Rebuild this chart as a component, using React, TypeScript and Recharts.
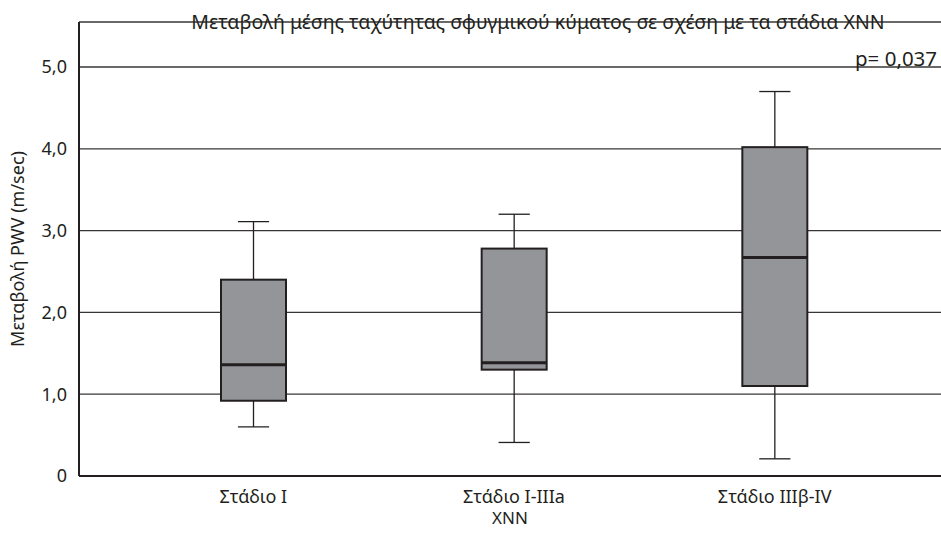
import React from 'react';
import { Bar, CartesianGrid, ComposedChart, XAxis, YAxis } from 'recharts';

const stages = ['Στάδιο I', 'Στάδιο I-IIIa', 'Στάδιο IIIβ-IV'];
const whiskerLow = [0.6, 0.41, 0.21];
const q1 = [0.92, 1.3, 1.1];
const medians = [1.36, 1.385, 2.67];
const q3 = [2.4, 2.78, 4.02];
const whiskerHigh = [3.11, 3.2, 4.7];
const yTicks = [0, 1, 2, 3, 4, 5];

const title = 'Μεταβολή μέσης ταχύτητας σφυγμικού κύματος σε σχέση με τα στάδια XNN';
const pValue = 'p= 0,037';

interface Row {
  stage: string;
  min: number;
  q1: number;
  median: number;
  q3: number;
  max: number;
}

const data: Row[] = stages.map((stage, i) => ({
  stage,
  min: whiskerLow[i],
  q1: q1[i],
  median: medians[i],
  q3: q3[i],
  max: whiskerHigh[i]
}));

const INK = '#231f20';
const FONT = '"Noto Sans", sans-serif';

const BoxShape = (props: any) => {
  const { x, y, width, height, payload } = props;
  const row = payload as Row;
  const span = row.max - row.min;
  const py = (v: number) => y + ((row.max - v) / span) * height;
  const cx = x + width / 2;
  const cap = width * 0.24;
  return (
    <g>
      <line x1={cx} x2={cx} y1={py(row.max)} y2={py(row.min)} stroke={INK} strokeWidth={1.3} />
      <line x1={cx - cap} x2={cx + cap} y1={py(row.max)} y2={py(row.max)} stroke={INK} strokeWidth={1.3} />
      <line x1={cx - cap} x2={cx + cap} y1={py(row.min)} y2={py(row.min)} stroke={INK} strokeWidth={1.3} />
      <rect
        x={x}
        y={py(row.q3)}
        width={width}
        height={py(row.q1) - py(row.q3)}
        fill="#939598"
        stroke={INK}
        strokeWidth={2}
      />
      <line x1={x} x2={x + width} y1={py(row.median)} y2={py(row.median)} stroke={INK} strokeWidth={3} />
    </g>
  );
};

const formatY = (v: number): string => (v === 0 ? '0' : v.toFixed(1).replace('.', ','));

const App: React.FC = () => (
  <div style={{ position: 'absolute', left: 0, top: 0, width: 941, height: 536, background: '#fff', fontFamily: FONT }}>
    <ComposedChart width={941} height={536} data={data} margin={{ top: 22, right: 0, bottom: 0, left: 0 }}>
      <CartesianGrid vertical={false} stroke={INK} strokeWidth={1.3} strokeOpacity={0.9} />
      <XAxis
        dataKey="stage"
        height={60}
        padding={{ left: 44, right: 36 }}
        tickLine={false}
        axisLine={{ stroke: INK, strokeWidth: 2 }}
        tick={{ fill: INK, fontSize: 18, fontFamily: FONT }}
        tickMargin={8}
        label={{ value: 'XNN', position: 'insideBottom', offset: 12, fill: INK, fontSize: 17, fontFamily: FONT }}
      />
      <YAxis
        width={79}
        domain={[0, 5.55]}
        ticks={yTicks}
        tickFormatter={formatY}
        tickLine={false}
        axisLine={{ stroke: INK, strokeWidth: 2 }}
        tick={{ fill: INK, fontSize: 18, fontFamily: FONT }}
        tickMargin={6}
        label={{
          value: 'Μεταβολή PWV (m/sec)',
          angle: -90,
          position: 'insideLeft',
          offset: 18,
          style: { textAnchor: 'middle' },
          fill: INK,
          fontSize: 18,
          fontFamily: FONT
        }}
      />
      <Bar dataKey={(d: Row) => [d.min, d.max]} barSize={65} shape={BoxShape} isAnimationActive={false} />
    </ComposedChart>
    <div style={{ position: 'absolute', left: 0, width: 1076, top: 8, textAlign: 'center', fontSize: 19.5, color: INK, whiteSpace: 'nowrap' }}>
      {title}
    </div>
    <div style={{ position: 'absolute', left: 855, top: 44, fontSize: 20.5, color: INK, whiteSpace: 'nowrap' }}>{pValue}</div>
  </div>
);

export default App;
